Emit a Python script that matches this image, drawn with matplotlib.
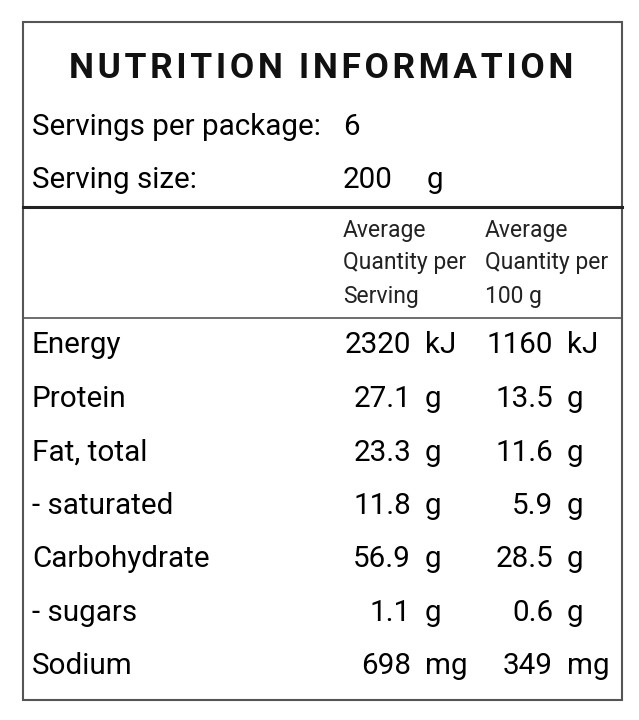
import matplotlib.pyplot as plt
from matplotlib.patches import Rectangle

title = "NUTRITION INFORMATION"
servings = "6"
serving_size = "200"
nutrients = ["Energy", "Protein", "Fat, total", "- saturated", "Carbohydrate", "- sugars", "Sodium"]
per_serving = ["2320", "27.1", "23.3", "11.8", "56.9", "1.1", "698"]
per_100g = ["1160", "13.5", "11.6", "5.9", "28.5", "0.6", "349"]
units = ["kJ", "g", "g", "g", "g", "g", "mg"]

plt.rcParams["font.family"] = ["Roboto", "DejaVu Sans"]
fig = plt.figure(figsize=(6.39, 7.2), dpi=100)
ax = fig.add_axes([0, 0, 1, 1])
ax.set_xlim(0, 639)
ax.set_ylim(720, 0)
ax.axis("off")

ax.add_patch(Rectangle((23, 22), 599, 678, fill=False, lw=1.5, ec="#555555"))
ax.plot([23, 622], [207, 207], color="#222222", lw=2.2)
ax.plot([23, 622], [318, 318], color="#555555", lw=1.2)

ax.text(321, 68, "\u200a".join(title), ha="center", va="center",
        fontsize=25.5, fontweight="bold", color="#111111")

big = 21.3
small = 16.5
ax.text(32, 127, "Servings per package:", fontsize=big, va="center")
ax.text(343, 127, servings, fontsize=big, va="center")
ax.text(32, 180, "Serving size:", fontsize=big, va="center")
ax.text(343, 180, serving_size, fontsize=big, va="center")
ax.text(427, 180, "g", fontsize=big, va="center")

for x in (343, 485):
    last = "Serving" if x == 343 else "100 g"
    for y, s in zip((230, 262, 296), ("Average", "Quantity per", last)):
        ax.text(x, y, s, fontsize=small, va="center", color="#222222")

rows_y = [345, 399, 453, 506, 559, 613, 666]
for y, n, a, b, u in zip(rows_y, nutrients, per_serving, per_100g, units):
    ax.text(32, y, n, fontsize=big, va="center")
    ax.text(411, y, a, fontsize=big, va="center", ha="right")
    ax.text(425, y, u, fontsize=big, va="center")
    ax.text(553, y, b, fontsize=big, va="center", ha="right")
    ax.text(567, y, u, fontsize=big, va="center")

fig.savefig("out.png", dpi=100, facecolor="white")
